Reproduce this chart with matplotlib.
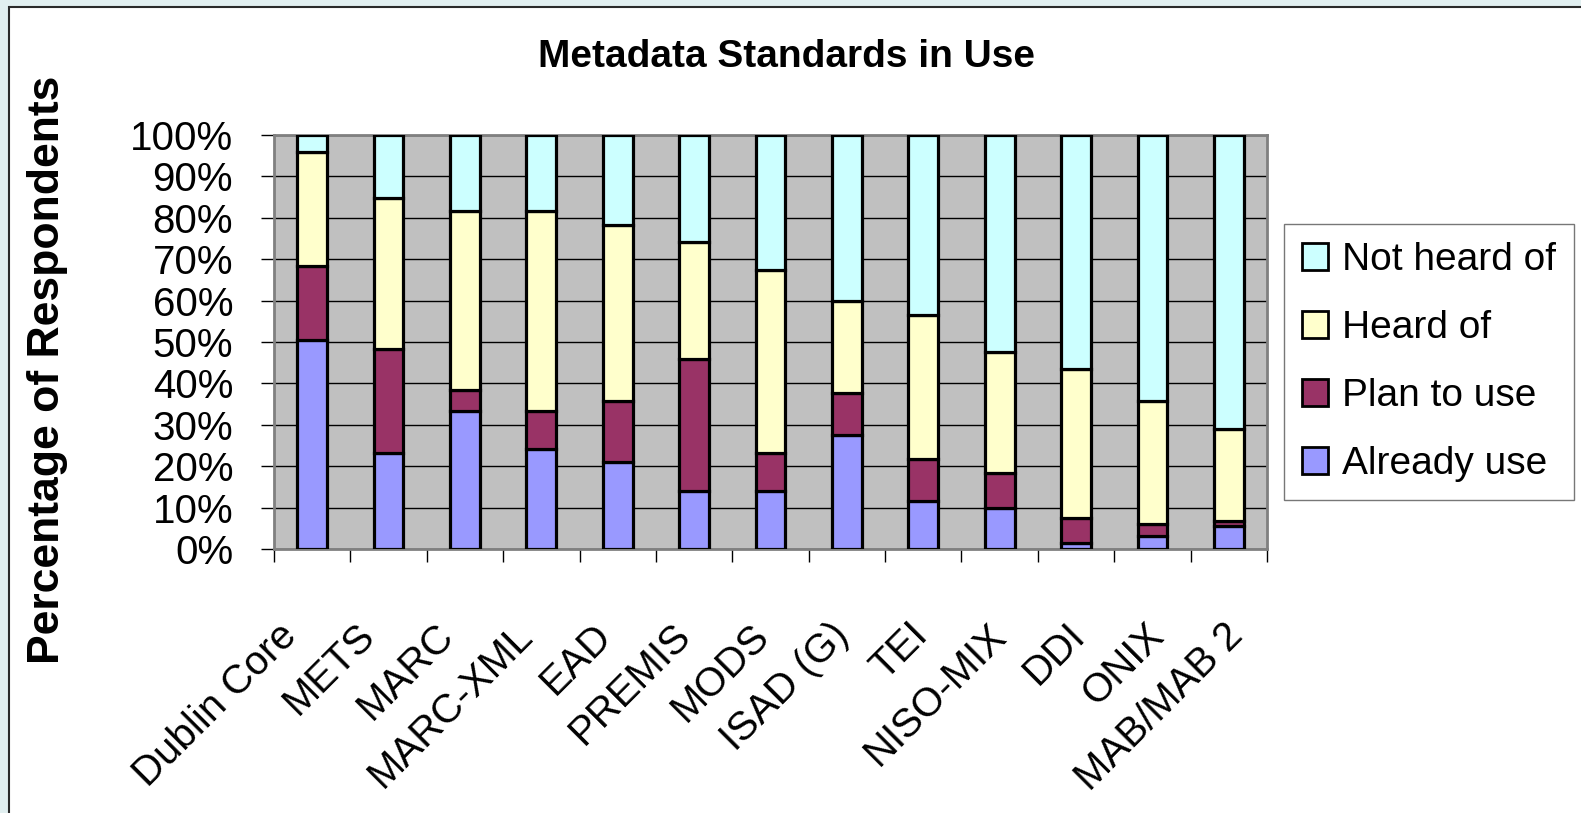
import matplotlib.pyplot as plt
import matplotlib.patches as mpatches
import matplotlib.transforms as mtransforms
import numpy as np

plt.rcParams['font.family'] = ['Liberation Sans', 'DejaVu Sans']

#--- data (percent of respondents) ---
standards = ['Dublin Core', 'METS', 'MARC', 'MARC-XML', 'EAD', 'PREMIS', 'MODS',
             'ISAD (G)', 'TEI', 'NISO-MIX', 'DDI', 'ONIX', 'MAB/MAB 2']
already_use = [50.6, 23.3, 33.3, 24.1, 20.9, 14.1, 14.1, 27.5, 11.7, 10.0, 1.5, 3.2, 5.6]
plan_to_use = [17.8, 25.0, 5.1, 9.2, 14.9, 31.7, 9.2, 10.1, 10.0, 8.4, 6.1, 2.8, 1.2]
heard_of = [27.4, 36.6, 43.2, 48.3, 42.5, 28.4, 44.1, 22.4, 34.8, 29.1, 35.8, 29.8, 22.3]
not_heard_of = [4.2, 15.1, 18.4, 18.4, 21.7, 25.8, 32.6, 40.0, 43.5, 52.5, 56.6, 64.2, 70.9]

series = [
    ('Already use', already_use, '#9999FF'),
    ('Plan to use', plan_to_use, '#993366'),
    ('Heard of', heard_of, '#FFFFCC'),
    ('Not heard of', not_heard_of, '#CCFFFF'),
]

W, H = 1581, 813
fig = plt.figure(figsize=(W / 100, H / 100), dpi=100, facecolor='#E1EFF0')

# white chart panel with dark border (left/top visible)
panel = mpatches.Rectangle((9 / W, -0.1), 1.1, (H - 7) / H + 0.1, transform=fig.transFigure,
                           facecolor='white', edgecolor='#2a2a2a', linewidth=1.5, zorder=-10)
fig.patches.append(panel)

ax = fig.add_axes([274 / W, (H - 549) / H, (1267 - 274) / W, (549 - 135) / H])
ax.set_facecolor('#C0C0C0')

x = np.arange(len(standards))
bottom = np.zeros(len(standards))
handles = {}
for name, vals, color in series:
    vals = np.array(vals)
    b = ax.bar(x, vals, 0.39, bottom=bottom, color=color, edgecolor='black',
               linewidth=2.3, zorder=3)
    handles[name] = b
    bottom += vals

ax.set_xlim(-0.5, len(standards) - 0.5)
ax.set_ylim(0, 100)
ax.set_yticks(np.arange(0, 101, 10))
ax.set_yticklabels([f'{v}%' for v in range(0, 101, 10)], fontsize=29)
ax.yaxis.grid(True, color='black', linewidth=1.0, zorder=1)
ax.set_axisbelow(True)
ax.tick_params(axis='y', direction='out', length=9.5, width=1, pad=20)

ax.set_xticks(x)
ax.set_xticklabels(standards, fontsize=29)
ax.set_xticks(np.arange(-0.5, len(standards)), minor=True)
ax.tick_params(axis='x', which='major', length=0, pad=58)
ax.tick_params(axis='x', which='minor', direction='out', length=9.5, width=1)
# category labels are spread a little wider than the bars in the original
for i, lab in enumerate(ax.get_xticklabels()):
    shift = mtransforms.ScaledTranslation((-22 + 2.5 * i) / 100, 0, fig.dpi_scale_trans)
    lab.set_rotation(45)
    lab.set_ha('right')
    lab.set_va('center')
    lab.set_rotation_mode('anchor')
    lab.set_transform(lab.get_transform() + shift)

for s in ax.spines.values():
    s.set_color('#808080')
    s.set_linewidth(2)

fig.text(786 / W, (H - 67) / H, 'Metadata Standards in Use', fontsize=28,
         fontweight='bold', ha='center', va='baseline')
fig.text(48 / W, 1 - 370 / H, 'Percentage of Respondents', fontsize=32,
         fontweight='bold', rotation=90, ha='center', va='center')

order = ['Not heard of', 'Heard of', 'Plan to use', 'Already use']
leg = fig.legend([handles[n] for n in order], order, loc='upper left',
                 bbox_to_anchor=(1284 / W, 1 - 224 / H), fontsize=28, frameon=True,
                 fancybox=False, edgecolor='#555555', handlelength=0.67,
                 handleheight=0.67, handletextpad=0.35, labelspacing=0.82,
                 borderpad=0.47, borderaxespad=0)
leg.get_frame().set_linewidth(1)
for p in leg.get_patches():
    p.set_linewidth(2)

fig.savefig('out.png', dpi=100, facecolor=fig.get_facecolor())
